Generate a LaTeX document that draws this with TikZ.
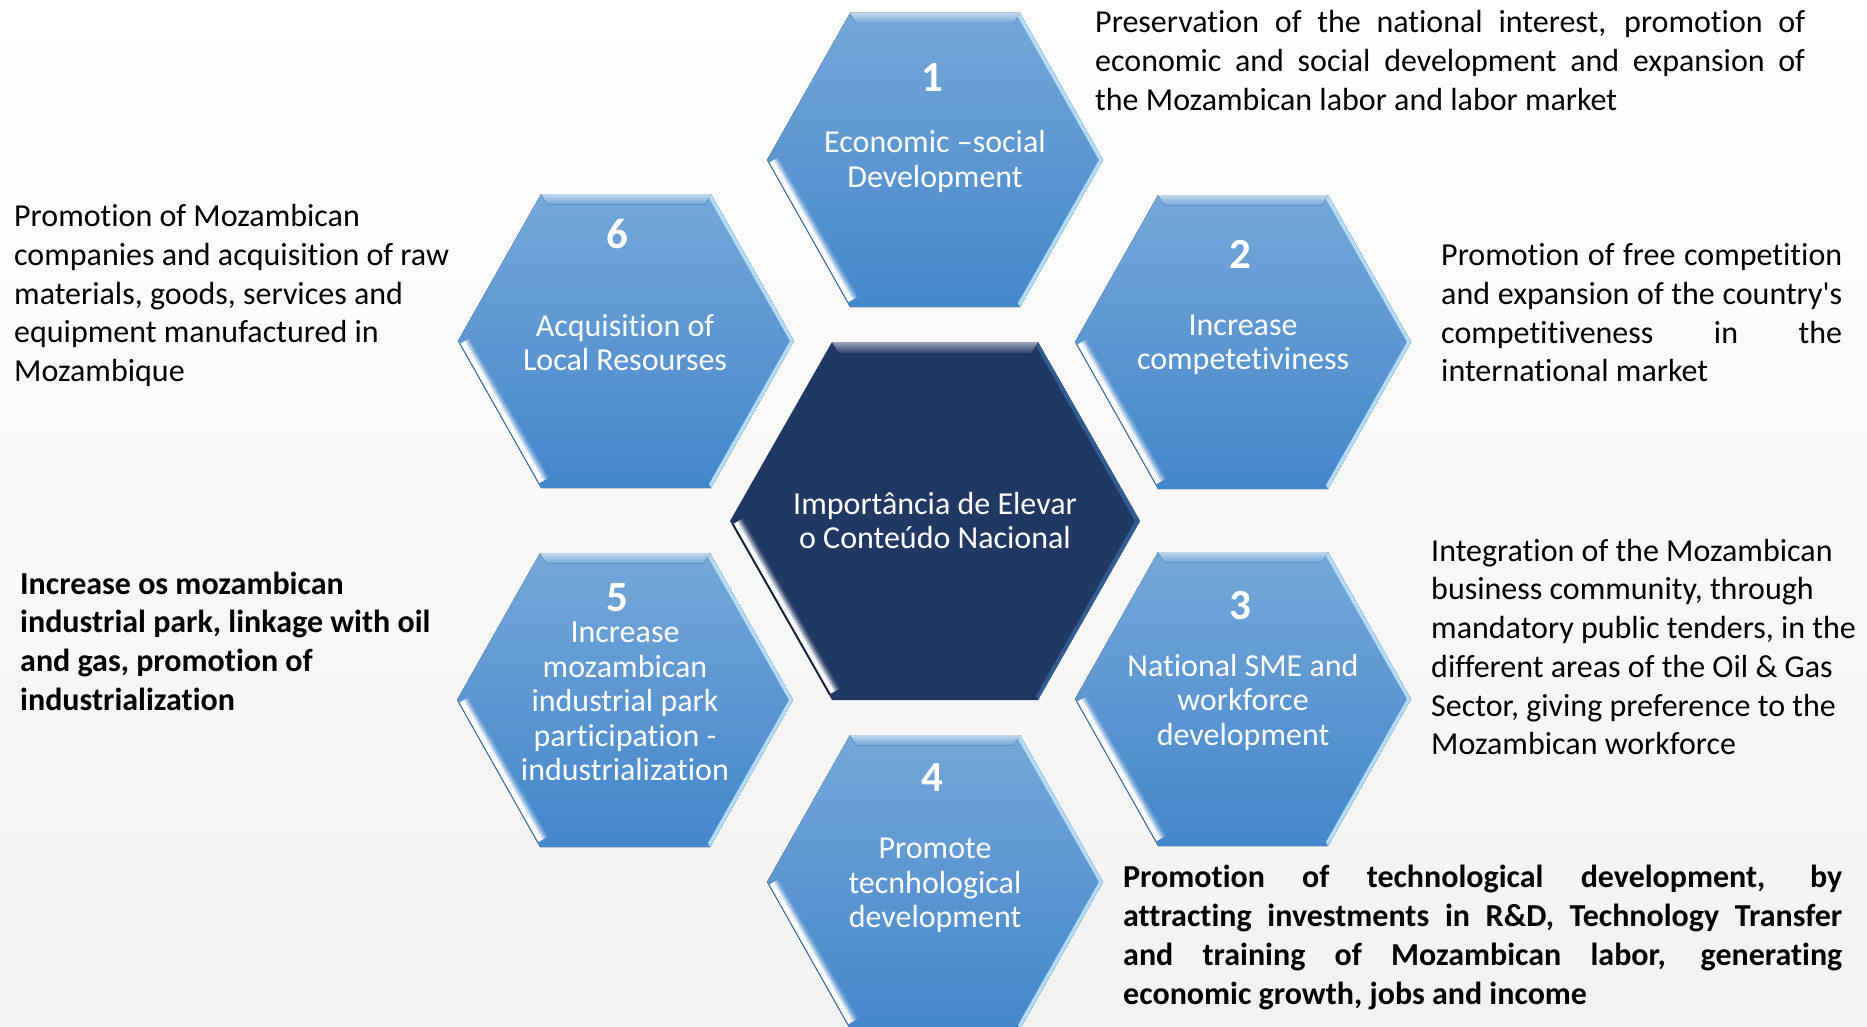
\documentclass[tikz,border=0pt]{standalone}
\usepackage{fontspec}
\setmainfont{Carlito}[Ligatures={TeXOff,CommonOff}]
\definecolor{hexTop}{RGB}{116,167,217}
\definecolor{hexBot}{RGB}{68,135,203}
\colorlet{hexMid}{hexBot!75!hexTop}
\definecolor{navy}{RGB}{33,56,100}
\definecolor{bgBot}{RGB}{242,242,242}
\definecolor{rim}{RGB}{178,220,248}
\newcommand\bluehex[1]{%
 \begin{scope}[shift={(#1)}]
  \fill[top color=hexTop,bottom color=hexBot] (-168,0) -- (-85,-147) -- (85,-147) -- (168,0) -- (85,147) -- (-85,147) -- cycle;
  \fill[top color=hexTop!45!white,bottom color=hexTop] (-85,-147) -- (85,-147) -- (79,-137) -- (-79,-137) -- cycle;
  \fill[rim] (85,-147) -- (168,0) -- (85,147) -- (83,143) -- (164,0) -- (83,-143) -- cycle;
  % lower-left bevel: outer line, white band, gradient into the face
  \fill[hexBot!80!black] (-166.34,2.94) -- (-87.49,142.59) -- (-86.62,142.10) -- (-165.47,2.45) -- cycle;
  \fill[white] (-165.47,2.45) -- (-86.62,142.10) -- (-82.26,139.64) -- (-161.11,-0.01) -- cycle;
  \fill[white!75!hexMid] (-161.11,-0.01) -- (-82.26,139.64) -- (-80.96,138.90) -- (-159.81,-0.75) -- cycle;
  \fill[white!50!hexMid] (-159.81,-0.75) -- (-80.96,138.90) -- (-79.65,138.16) -- (-158.50,-1.49) -- cycle;
  \fill[white!28!hexMid] (-158.50,-1.49) -- (-79.65,138.16) -- (-78.34,137.42) -- (-157.19,-2.23) -- cycle;
  \fill[white!10!hexMid] (-157.19,-2.23) -- (-78.34,137.42) -- (-77.04,136.69) -- (-155.89,-2.96) -- cycle;
 \end{scope}}
\newcommand\navyhex[1]{%
 \begin{scope}[shift={(#1)}]
  \fill[navy] (-205,0) -- (-103,-179) -- (103,-179) -- (205,0) -- (103,179) -- (-103,179) -- cycle;
  \fill[top color=navy!45!white,bottom color=navy] (-103,-179) -- (103,-179) -- (96,-167) -- (-96,-167) -- cycle;
  \fill[navy!55!hexBot] (103,-179) -- (205,0) -- (103,179) -- (101,175) -- (200,0) -- (101,-175) -- cycle;
  \fill[navy!60!black] (-202.96,3.58) -- (-106.06,173.63) -- (-104.32,172.64) -- (-201.22,2.59) -- cycle;
  \fill[white] (-201.22,2.59) -- (-104.32,172.64) -- (-100.41,170.41) -- (-197.31,0.36) -- cycle;
  \fill[white!75!navy] (-197.31,0.36) -- (-100.41,170.41) -- (-99.11,169.67) -- (-196.01,-0.38) -- cycle;
  \fill[white!50!navy] (-196.01,-0.38) -- (-99.11,169.67) -- (-97.80,168.93) -- (-194.70,-1.12) -- cycle;
  \fill[white!28!navy] (-194.70,-1.12) -- (-97.80,168.93) -- (-96.50,168.19) -- (-193.40,-1.87) -- cycle;
  \fill[white!10!navy] (-193.40,-1.87) -- (-96.50,168.19) -- (-95.20,167.44) -- (-192.10,-2.61) -- cycle;
 \end{scope}}
\tikzset{
 desc/.style={inner sep=0pt, font=\fontsize{32}{38.7}\selectfont, anchor=west, align=left, text=black},
 hexlabel/.style={inner sep=0pt, font=\fontsize{32}{34.5}\selectfont, align=center, text=white},
 hexnum/.style={inner sep=0pt, font=\fontsize{43}{50}\selectfont\bfseries, text=white},
}
\begin{document}
\begin{tikzpicture}[x=1pt,y=-1pt]
\fill[top color=white,bottom color=bgBot] (0,0) rectangle (1867,1027);
\useasboundingbox (0,0) rectangle (1867,1027);
\coordinate (hc) at (935,521);
\coordinate (h1) at (935,160);
\coordinate (h2) at (1243,342);
\coordinate (h3) at (1243,699);
\coordinate (h4) at (935,882);
\coordinate (h5) at (625,700);
\coordinate (h6) at (626,341);
\bluehex{h1}
\bluehex{h2}
\bluehex{h3}
\bluehex{h4}
\bluehex{h5}
\bluehex{h6}
\navyhex{hc}
% hexagon texts
\node[hexnum] (n1) at (932,78) {1};
\node[hexlabel] (l1) at (935,161.5) {Economic –social\\Development};
\node[hexnum] (n2) at (1240,254) {2};
\node[hexlabel] (l2) at (1243,345) {Increase\\competetiviness};
\node[hexnum] (n3) at (1240,606) {3};
\node[hexlabel] (l3) at (1243,702) {National SME and\\workforce\\development};
\node[hexnum] (n4) at (932,778) {4};
\node[hexlabel] (l4) at (935,885.5) {Promote\\tecnhological\\development};
\node[hexnum] (n5) at (617,598) {5};
\node[hexlabel] (l5) at (625,701.5) {Increase\\mozambican\\industrial park\\participation -\\industrialization};
\node[hexnum] (n6) at (617,234) {6};
\node[hexlabel] (l6) at (625,342.5) {Acquisition of\\Local Resourses};
\node[hexlabel] (lc) at (935,520.5) {Importância de Elevar\\o Conteúdo Nacional};
% description texts
\node[desc] (t1) at (1095,60.5) {\makebox[710pt][s]{Preservation of the national interest, promotion of}\\\makebox[710pt][s]{economic and social development and expansion of}\\the Mozambican labor and labor market};
\node[desc] (t6) at (14,295.5) {Promotion of Mozambican\\companies and acquisition of raw\\materials, goods, services and\\equipment manufactured in\\Mozambique};
\node[desc] (t2) at (1441,313) {\makebox[401pt][s]{Promotion of free competition}\\\makebox[401pt][s]{and expansion of the country's}\\\makebox[401pt][s]{competitiveness in the}\\international market};
\node[desc,font=\fontsize{32}{38.7}\selectfont\bfseries] (t5) at (20,641) {Increase os mozambican\\industrial park, linkage with oil\\and gas, promotion of\\industrialization};
\node[desc] (t3) at (1431,647) {Integration of the Mozambican\\business community, through\\mandatory public tenders, in the\\different areas of the Oil \& Gas\\Sector, giving preference to the\\Mozambican workforce};
\node[desc,font=\fontsize{32}{38.7}\selectfont\bfseries] (t4) at (1123,937.5) {\makebox[719pt][s]{Promotion of technological development, by}\\\makebox[719pt][s]{attracting investments in R\&D, Technology Transfer}\\\makebox[719pt][s]{and training of Mozambican labor, generating}\\economic growth, jobs and income};
\end{tikzpicture}
\end{document}
